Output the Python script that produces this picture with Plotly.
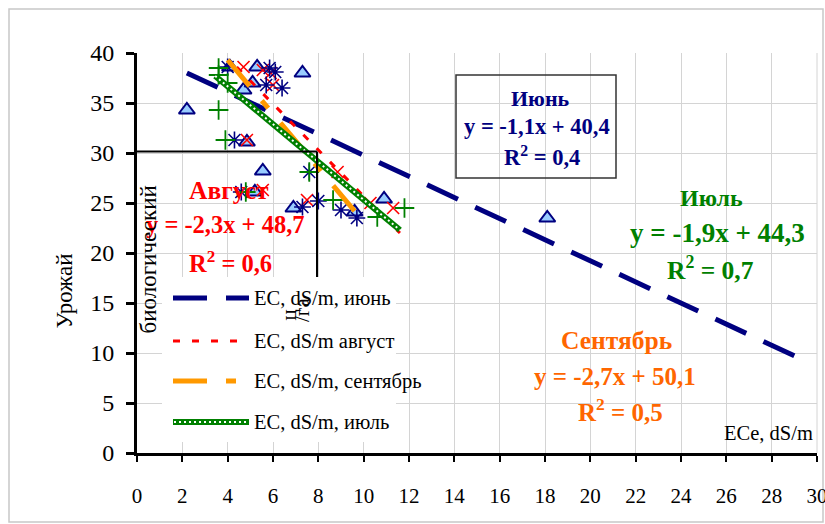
import plotly.graph_objects as go

# ---------------- data ----------------
june_x = [2.2, 4.1, 5.3, 7.3, 4.7, 5.1, 4.85, 5.55, 5.2, 6.9, 9.6, 10.9, 18.1]
june_y = [34.3, 38.6, 38.6, 38.0, 36.3, 37.0, 31.1, 28.2, 26.1, 24.5, 24.1, 25.4, 23.5]

aug_x = [4.7, 5.55, 5.9, 6.0, 4.85, 5.55, 8.85, 7.5, 10.3, 11.3]
aug_y = [38.6, 38.3, 38.0, 36.8, 31.3, 26.3, 28.1, 25.3, 25.0, 24.5]

sep_x = [4.0, 5.85, 6.1, 5.7, 6.4, 4.3, 7.6, 4.6, 7.3, 8.0, 9.0, 9.7]
sep_y = [38.6, 38.5, 38.1, 36.8, 36.5, 31.3, 28.1, 26.1, 24.6, 25.2, 24.3, 23.5]

jul_x = [3.6, 3.6, 4.0, 3.6, 3.9, 7.6, 4.8, 8.65, 10.6, 11.8]
jul_y = [38.5, 37.8, 37.0, 34.3, 31.3, 28.1, 26.1, 25.3, 23.6, 24.5]

june_trend_x = [2.2, 29.4]
june_trend_y = [38.0, 9.3]
aug_trend_x = [4.4, 11.6]
aug_trend_y = [38.6, 22.0]
sep_trend_x = [4.0, 9.6]
sep_trend_y = [39.3, 24.2]
jul_trend_x = [3.45, 11.6]
jul_trend_y = [37.7, 22.3]

x_ticks = list(range(0, 31, 2))
y_ticks = list(range(0, 41, 5))

legend_labels = ["EC, dS/m, июнь", "EC, dS/m август", "EC, dS/m, сентябрь", "EC, dS/m, июль"]

# ---------------- layout helpers ----------------
W, H = 825, 524
L, R, T, B = 137, 817, 53, 453   # plot area in page pixels


def px(x):
    return (x - L) / (R - L)


def py(y):
    return (B - y) / (B - T)


NAVY = "#000080"
RED = "#FF0000"
ORANGE = "#FF9900"
ORANGE_T = "#FF6600"
GREEN = "#008000"
SERIF = "Times New Roman, Liberation Serif, serif"

fig = go.Figure()

fig.add_trace(go.Scatter(x=june_x, y=june_y, mode="markers", showlegend=False,
                         marker=dict(symbol="triangle-up", size=14, color="#99CCFF",
                                     line=dict(color=NAVY, width=2))))
fig.add_trace(go.Scatter(x=aug_x, y=aug_y, mode="markers", showlegend=False,
                         marker=dict(symbol="x-thin", size=12, color=RED,
                                     line=dict(color=RED, width=1.6))))
fig.add_trace(go.Scatter(x=sep_x, y=sep_y, mode="markers", showlegend=False,
                         marker=dict(symbol="asterisk", size=14, color=NAVY,
                                     line=dict(color=NAVY, width=1.6))))
fig.add_trace(go.Scatter(x=jul_x, y=jul_y, mode="markers", showlegend=False,
                         marker=dict(symbol="cross-thin", size=14, color=GREEN,
                                     line=dict(color=GREEN, width=1.8))))

fig.add_trace(go.Scatter(x=june_trend_x, y=june_trend_y, mode="lines", showlegend=False,
                         line=dict(color=NAVY, width=5, dash="34px,19px")))
fig.add_trace(go.Scatter(x=aug_trend_x, y=aug_trend_y, mode="lines", showlegend=False,
                         line=dict(color=RED, width=3, dash="7px,12px")))
fig.add_trace(go.Scatter(x=sep_trend_x, y=sep_trend_y, mode="lines", showlegend=False,
                         line=dict(color=ORANGE, width=5, dash="34px,19px,10px,19px")))
fig.add_trace(go.Scatter(x=jul_trend_x, y=jul_trend_y, mode="lines", showlegend=False,
                         line=dict(color=GREEN, width=6)))
fig.add_trace(go.Scatter(x=jul_trend_x, y=jul_trend_y, mode="lines", showlegend=False,
                         line=dict(color="white", width=2, dash="2px,3px")))

shapes = []
annotations = []

# outer chart border
shapes.append(dict(type="rect", xref="paper", yref="paper",
                   x0=px(9), x1=px(823), y0=py(9), y1=py(522),
                   line=dict(color="#c8c8c8", width=1.5), layer="below"))
# right-edge gridline (x = 30)
shapes.append(dict(type="line", xref="paper", yref="paper",
                   x0=1, x1=1, y0=0, y1=1,
                   line=dict(color="#d4d4d4", width=1), layer="below"))

# black leftover lines
shapes.append(dict(type="line", xref="paper", yref="paper",
                   x0=px(L), x1=px(317), y0=py(151.5), y1=py(151.5),
                   line=dict(color="black", width=2), layer="above"))
shapes.append(dict(type="line", xref="paper", yref="paper",
                   x0=px(317), x1=px(317), y0=py(151.5), y1=py(303),
                   line=dict(color="black", width=2), layer="above"))

# legend box
shapes.append(dict(type="rect", xref="paper", yref="paper",
                   x0=px(162), x1=px(396), y0=py(277), y1=py(442),
                   line=dict(width=0), fillcolor="white", layer="above"))
leg_y = [298, 341, 381, 422]
leg_styles = [dict(color=NAVY, width=5, dash="34px,19px"),
              dict(color=RED, width=3, dash="7px,12px"),
              dict(color=ORANGE, width=5, dash="34px,19px,10px,19px"),
              dict(color=GREEN, width=6)]
for yy, st, lab in zip(leg_y, leg_styles, legend_labels):
    shapes.append(dict(type="line", xref="paper", yref="paper",
                       x0=px(173), x1=px(249), y0=py(yy), y1=py(yy),
                       line=st, layer="above"))
    annotations.append(dict(xref="paper", yref="paper", x=px(252), y=py(yy),
                            xanchor="left", yanchor="middle", showarrow=False,
                            text=lab, font=dict(family=SERIF, size=20.5, color="black")))
shapes.append(dict(type="line", xref="paper", yref="paper",
                   x0=px(174), x1=px(248), y0=py(422), y1=py(422),
                   line=dict(color="white", width=2, dash="2px,3px"), layer="above"))

# June box
shapes.append(dict(type="rect", xref="paper", yref="paper",
                   x0=px(456), x1=px(616), y0=py(75), y1=py(178),
                   line=dict(color="#333333", width=1.5), layer="above"))


def add_text(x, y, text, color, size, bold=True, anchor="center"):
    t = f"<b>{text}</b>" if bold else text
    annotations.append(dict(xref="paper", yref="paper", x=px(x), y=py(y),
                            xanchor=anchor, yanchor="middle", showarrow=False,
                            text=t, font=dict(family=SERIF, size=size, color=color)))


add_text(540, 98, "Июнь", NAVY, 22)
add_text(537, 126, "y = -1,1x + 40,4", NAVY, 22.5)
add_text(542, 156, "R<sup>2</sup> = 0,4", NAVY, 22.5)

add_text(229, 190, "Август", RED, 25.5)
add_text(225, 224, "y = -2,3x + 48,7", RED, 24.5)
add_text(230, 262, "R<sup>2</sup> = 0,6", RED, 24.5)

add_text(711, 198, "Июль", GREEN, 24)
add_text(717, 233, "y = -1,9x + 44,3", GREEN, 27)
add_text(710, 268, "R<sup>2</sup> = 0,7", GREEN, 25.5)

add_text(616, 340, "Сентябрь", ORANGE_T, 25.5)
add_text(615, 376, "y = -2,7x + 50,1", ORANGE_T, 25)
add_text(620, 410, "R<sup>2</sup> = 0,5", ORANGE_T, 25)

# axis texts (rotated)
ROT_DX = -14


def add_rot(x, y, text, size):
    annotations.append(dict(xref="paper", yref="paper", x=px(x + ROT_DX), y=py(y), textangle=-90,
                            showarrow=False, text=text,
                            font=dict(family=SERIF, size=size, color="black")))


add_rot(63, 291, "Урожай", 23)
add_rot(147, 260, "биологический", 23)
add_rot(288, 323, "ц", 21)
add_rot(302, 324, "/га", 21)

annotations.append(dict(xref="paper", yref="paper", x=px(815), y=py(433),
                        xanchor="right", yanchor="middle", showarrow=False, text="ECe, dS/m",
                        font=dict(family=SERIF, size=20.5, color="black")))

fig.update_layout(
    width=W, height=H,
    margin=dict(l=L, r=W - R, t=T, b=H - B, autoexpand=False),
    paper_bgcolor="white", plot_bgcolor="white",
    showlegend=False,
    shapes=shapes, annotations=annotations,
    xaxis=dict(range=[0, 30], tickvals=x_ticks, showgrid=True, gridcolor="#d4d4d4", gridwidth=1,
               showline=True, linecolor="black", linewidth=2.5, ticks="outside", ticklen=6,
               tickwidth=2, tickcolor="black", zeroline=False, ticklabelstandoff=16,
               ticklabeloverflow="allow", automargin=False,
               tickfont=dict(family=SERIF, size=21, color="black")),
    yaxis=dict(range=[0, 40], tickvals=y_ticks, showgrid=True, gridcolor="#d4d4d4", gridwidth=1,
               showline=True, linecolor="black", linewidth=3, ticks="outside", ticklen=8,
               tickwidth=2.5, tickcolor="black", zeroline=False, ticklabelstandoff=7,
               automargin=False,
               tickfont=dict(family=SERIF, size=24, color="black")),
)

fig.write_html("out.html", config={"displayModeBar": False},
               post_script="document.body.style.margin='0';")
